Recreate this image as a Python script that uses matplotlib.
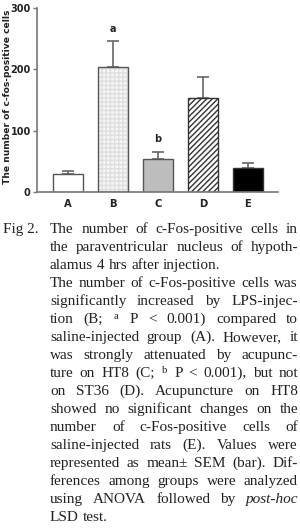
import numpy as np
import matplotlib
matplotlib.use("Agg")
import matplotlib.pyplot as plt

# bar data
groups = ["A", "B", "C", "D", "E"]
means = [30, 204, 53, 153, 39]
sems = [5, 42, 13, 35, 9]
sig_marks = ["", "a", "b", "", ""]

caption_lines = [
    "The number of c-Fos-positive cells in",
    "the paraventricular nucleus of hypoth-",
    "alamus 4 hrs after injection.",
    "The number of c-Fos-positive cells was",
    "significantly increased by LPS-injec-",
    "tion (B; ^a P < 0.001) compared to",
    "saline-injected group (A). However, it",
    "was strongly attenuated by acupunc-",
    "ture on HT8 (C; ^b P < 0.001), but not",
    "on ST36 (D). Acupuncture on HT8",
    "showed no significant changes on the",
    "number of c-Fos-positive cells of",
    "saline-injected rats (E). Values were",
    "represented as mean\u00b1 SEM (bar). Dif-",
    "ferences among groups were analyzed",
    "using ANOVA followed by *post-hoc*",
    "LSD test.",
]
ragged_lines = {2, 16}

W, H = 300, 532
fig = plt.figure(figsize=(W / 100, H / 100), dpi=100)
plt.rcParams["mathtext.fontset"] = "custom"
plt.rcParams["mathtext.rm"] = "Liberation Serif"

edge = "#555555"
ax = fig.add_axes([37 / W, 1 - 192 / H, 241 / W, 184 / H])
x = np.arange(len(groups))
bw = 0.67

ax.bar(x[0], means[0], bw, color="white", edgecolor=edge, linewidth=1.0, zorder=2)
ax.bar(x[1], means[1], bw, color="#f6f6f6", edgecolor="#dedede", hatch="++++",
       linewidth=0, zorder=2)
ax.bar(x[1], means[1], bw, fill=False, edgecolor=edge, linewidth=1.0, zorder=3)
ax.bar(x[2], means[2], bw, color="#bdbdbd", edgecolor=edge, linewidth=1.0, zorder=2)
ax.bar(x[3], means[3], bw, color="white", edgecolor="#333333", hatch="//////",
       linewidth=1.0, zorder=2)
ax.bar(x[4], means[4], bw, color="black", edgecolor="#333333", linewidth=1.0, zorder=2)

ax.errorbar(x, means, yerr=[np.zeros(len(sems)), sems], fmt="none",
            ecolor="#666666", elinewidth=1.2, capsize=4, capthick=1.2, zorder=1)

for xi, m, s, lab in zip(x, means, sems, sig_marks):
    if lab:
        ax.text(xi, m + s + 12, lab, ha="center", va="bottom",
                fontsize=7, fontweight="bold", color="#222222")

ax.set_xlim(-0.69, 4.67)
ax.set_ylim(0, 300)
ax.set_yticks([0, 100, 200, 300])
ax.set_xticks(x)
ax.set_xticklabels(groups)
for side in ["top", "right"]:
    ax.spines[side].set_visible(False)
for side in ["left", "bottom"]:
    ax.spines[side].set_color("#777777")
    ax.spines[side].set_linewidth(1.2)
ax.tick_params(axis="y", direction="out", length=3, width=1, color="#777777",
               labelsize=7, pad=1.5, labelcolor="#222222")
ax.tick_params(axis="x", length=0, labelsize=7.2, pad=5, labelcolor="#222222")
for t in ax.get_yticklabels() + ax.get_xticklabels():
    t.set_fontweight("bold")
ax.set_ylabel("The number of c-fos-positive cells", fontsize=6.6,
              fontweight="bold", color="#222222")
ax.yaxis.set_label_coords(-0.105, 0.52)

# caption, set line by line and justified like the journal page
cap_font = dict(family="Liberation Serif", fontsize=11, color="#222222")
left, right = 50, 298
base0, step = 233, 18

fig.text(3 / W, 1 - base0 / H, "Fig 2.", va="baseline", ha="left", **cap_font)

renderer = fig.canvas.get_renderer()
sp = fig.text(0, 0, "a a", **cap_font)
nsp = fig.text(0, 0, "aa", **cap_font)
space_w = (sp.get_window_extent(renderer).width
           - nsp.get_window_extent(renderer).width)
sp.remove()
nsp.remove()

for i, line in enumerate(caption_lines):
    y = 1 - (base0 + i * step) / H
    words = []
    for w in line.split(" "):
        kw = dict(cap_font)
        if w.startswith("^"):
            w = r"$^{\mathrm{" + w[1:] + "}}$"
        elif w.startswith("*") and w.endswith("*"):
            w = w[1:-1]
            kw["style"] = "italic"
        words.append(fig.text(0, y, w, va="baseline", ha="left", **kw))
    widths = [t.get_window_extent(renderer).width for t in words]
    if i in ragged_lines or len(words) < 2:
        gap = space_w
    else:
        gap = (right - left - sum(widths)) / (len(words) - 1)
    pos = left
    for t, wd in zip(words, widths):
        t.set_x(pos / W)
        pos += wd + gap

fig.savefig("out.png", dpi=100)
